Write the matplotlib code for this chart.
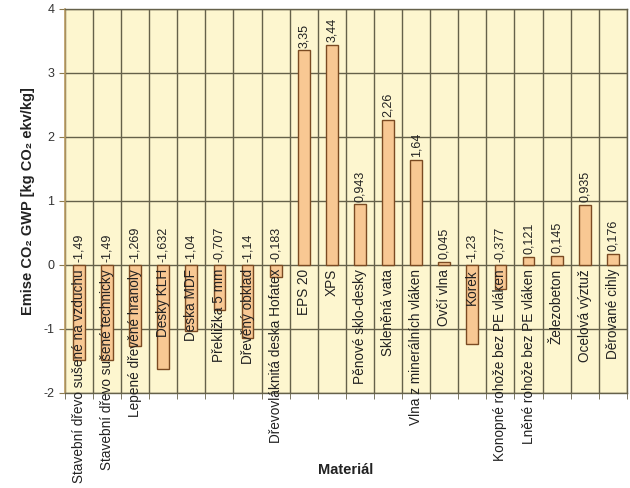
import matplotlib
matplotlib.use("Agg")
import matplotlib.pyplot as plt

plt.rcParams['font.family'] = ['Liberation Sans', 'DejaVu Sans']

materials = [
    "Stavební dřevo sušené na vzduchu",
    "Stavební dřevo sušené technicky",
    "Lepené dřevěné hranoly",
    "Desky KLH",
    "Deska MDF",
    "Překližka 5 mm",
    "Dřevěný obklad",
    "Dřevovláknitá deska Hofatex",
    "EPS 20",
    "XPS",
    "Pěnové sklo-desky",
    "Skleněná vata",
    "Vlna z minerálních vláken",
    "Ovčí vlna",
    "Korek",
    "Konopné rohože bez PE vláken",
    "Lněné rohože bez PE vláken",
    "Železobeton",
    "Ocelová výztuž",
    "Děrované cihly",
]
gwp = [-1.49, -1.49, -1.269, -1.632, -1.04, -0.707, -1.14, -0.183,
       3.35, 3.44, 0.943, 2.26, 1.64, 0.045, -1.23, -0.377,
       0.121, 0.145, 0.935, 0.176]
y_ticks = [-2, -1, 0, 1, 2, 3, 4]

bg = "#fdf6cf"
bar_face = "#f8c893"
bar_edge = "#7a4a22"
grid_col = "#65614a"

fig = plt.figure(figsize=(6.3, 4.88), dpi=100)
ax = fig.add_axes([0.103, 0.195, 0.892, 0.787])
ax.set_facecolor(bg)

x = list(range(len(materials)))
ax.bar(x, gwp, width=0.42, color=bar_face, edgecolor=bar_edge,
       linewidth=1.0, zorder=3)

ax.set_xlim(-0.5, len(materials) - 0.5)
ax.set_ylim(y_ticks[0], y_ticks[-1])
ax.set_yticks(y_ticks)
ax.set_yticklabels([str(t) for t in y_ticks], fontsize=9, color="#333333")
ax.tick_params(axis='y', direction='out', length=4, color="#8a7a50")

# category boundaries as vertical grid lines with small ticks below the plot
ax.set_xticks([])
ax.set_xticks([i - 0.5 for i in range(len(materials) + 1)], minor=True)
ax.tick_params(axis='x', which='minor', direction='out', length=4,
               color=grid_col, labelbottom=False)
ax.grid(True, which='minor', axis='x', color=grid_col, linewidth=1.0, zorder=1)
ax.grid(True, which='major', axis='y', color=grid_col, linewidth=1.0, zorder=1)

for side in ('top', 'right', 'bottom'):
    ax.spines[side].set_color(grid_col)
    ax.spines[side].set_linewidth(1.0)
ax.spines['left'].set_color("#b89a60")
ax.spines['left'].set_linewidth(1.2)

# category names run downward from the zero line
for xi, name in zip(x, materials):
    ax.annotate(name, xy=(xi, 0), xytext=(0, -3), textcoords='offset points',
                rotation=90, ha='center', va='top', fontsize=9.8,
                color="#222222", zorder=5, annotation_clip=False)

# value labels above the bar top (or above zero for negative bars)
for xi, v in zip(x, gwp):
    base = v if v > 0 else 0
    label = str(v).replace('.', ',')
    ax.annotate(label, xy=(xi, base), xytext=(0, 2), textcoords='offset points',
                rotation=90, ha='center', va='bottom', fontsize=9,
                color="#222222", zorder=5)

ax.set_ylabel("Emise CO₂ GWP [kg CO₂ ekv/kg]", fontsize=10.5,
              fontweight='bold', color="#222222", labelpad=6)
fig.text(0.549, 0.037, "Materiál", ha='center', va='center',
         fontsize=10.5, fontweight='bold', color="#222222")

fig.savefig("out.png", dpi=100, facecolor="white")
